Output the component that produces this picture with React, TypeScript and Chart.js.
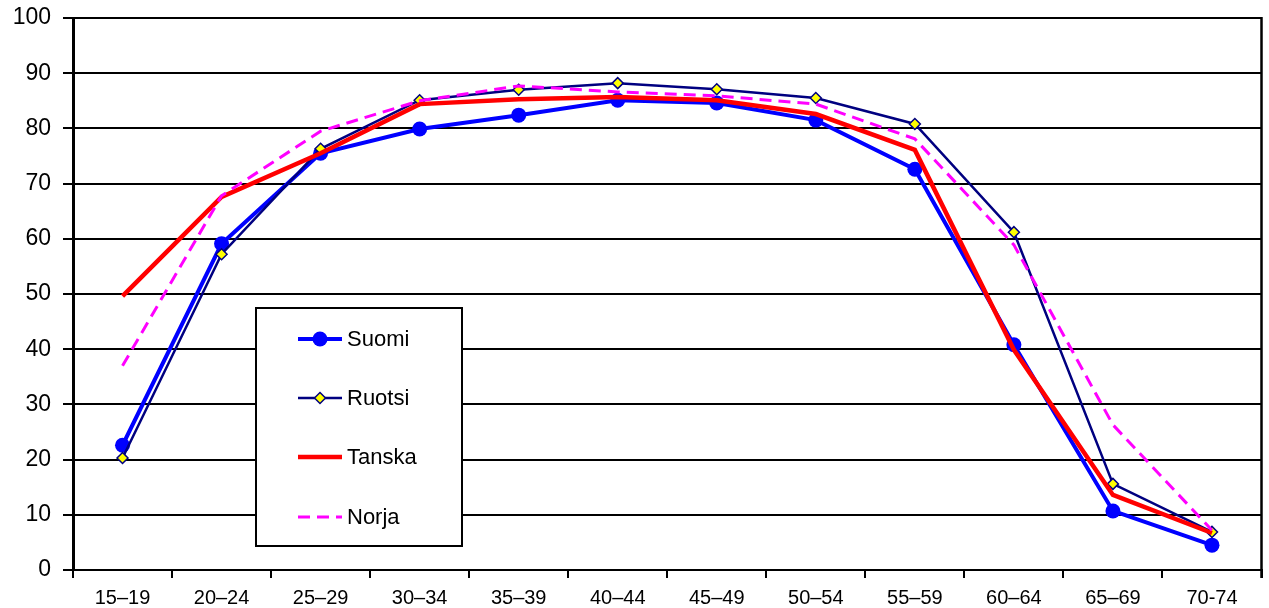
import React, { useEffect, useRef } from "react";
import { Chart, registerables } from "chart.js";

Chart.register(...registerables);

const categories = ["15–19", "20–24", "25–29", "30–34", "35–39", "40–44", "45–49", "50–54", "55–59", "60–64", "65–69", "70-74"];
const suomi = [22.6, 59.1, 75.5, 79.9, 82.4, 85.1, 84.6, 81.5, 72.6, 40.8, 10.7, 4.5];
const ruotsi = [20.3, 57.2, 76.3, 85.1, 87.0, 88.2, 87.1, 85.5, 80.8, 61.2, 15.6, 6.9];
const tanska = [49.6, 67.6, 75.5, 84.4, 85.3, 85.7, 85.1, 82.6, 76.1, 39.9, 13.6, 6.7];
const norja = [37.0, 67.8, 79.5, 85.0, 87.7, 86.6, 85.9, 84.4, 78.1, 58.9, 26.3, 7.2];
const yTicks = [0, 10, 20, 30, 40, 50, 60, 70, 80, 90, 100];

const FONT = "'Liberation Sans', Arial, sans-serif";

const frameAndLegend = {
  id: "frameAndLegend",
  afterDraw(chart: any) {
    const ctx = chart.ctx;
    const { right, top, bottom } = chart.chartArea;
    ctx.save();
    ctx.strokeStyle = "#000";
    ctx.lineWidth = 2.5;
    ctx.beginPath();
    ctx.moveTo(right, top - 1);
    ctx.lineTo(right, bottom + 8);
    ctx.stroke();

    const bx = 256, by = 308, bw = 206, bh = 238;
    ctx.fillStyle = "#fff";
    ctx.fillRect(bx, by, bw, bh);
    ctx.strokeStyle = "#000";
    ctx.lineWidth = 2;
    ctx.strokeRect(bx, by, bw, bh);

    const rowY = [339, 398, 457, 517];
    const x0 = 298, x1 = 342, tx = 347;
    chart.data.datasets.forEach((ds: any, i: number) => {
      const y = rowY[i];
      ctx.save();
      ctx.strokeStyle = ds.borderColor;
      ctx.lineWidth = ds.borderWidth;
      ctx.setLineDash(ds.borderDash || []);
      ctx.lineCap = "butt";
      ctx.beginPath();
      ctx.moveTo(x0, y);
      ctx.lineTo(x1, y);
      ctx.stroke();
      ctx.setLineDash([]);
      const cx = (x0 + x1) / 2;
      if (ds.pointRadius > 0) {
        ctx.fillStyle = ds.pointBackgroundColor;
        ctx.strokeStyle = ds.pointBorderColor;
        ctx.lineWidth = ds.pointBorderWidth;
        const r = ds.pointRadius;
        ctx.beginPath();
        if (ds.pointStyle === "rectRot") {
          ctx.moveTo(cx, y - r);
          ctx.lineTo(cx + r, y);
          ctx.lineTo(cx, y + r);
          ctx.lineTo(cx - r, y);
          ctx.closePath();
        } else {
          ctx.arc(cx, y, r, 0, Math.PI * 2);
        }
        ctx.fill();
        if (ds.pointBorderWidth > 0) ctx.stroke();
      }
      ctx.restore();
      ctx.fillStyle = "#000";
      ctx.font = `22px ${FONT}`;
      ctx.textAlign = "left";
      ctx.textBaseline = "middle";
      ctx.fillText(ds.label, tx, y + 1);
    });
    ctx.restore();
  },
};

export default function App() {
  const ref = useRef<HTMLCanvasElement | null>(null);
  useEffect(() => {
    if (!ref.current) return;
    document.body.style.margin = "0";
    document.body.style.overflow = "hidden";
    const chart = new Chart(ref.current, {
      type: "line",
      data: {
        labels: categories,
        datasets: [
          {
            label: "Suomi",
            data: suomi,
            borderColor: "#0000FF",
            backgroundColor: "#0000FF",
            borderWidth: 4,
            pointRadius: 7.5,
            pointStyle: "circle",
            pointBackgroundColor: "#0000FF",
            pointBorderColor: "#0000FF",
            pointBorderWidth: 0,
            order: 4,
          },
          {
            label: "Ruotsi",
            data: ruotsi,
            borderColor: "#000080",
            backgroundColor: "#FFFF00",
            borderWidth: 2.5,
            pointRadius: 5.5,
            pointStyle: "rectRot",
            pointBackgroundColor: "#FFFF00",
            pointBorderColor: "#000080",
            pointBorderWidth: 1.5,
            order: 3,
          },
          {
            label: "Tanska",
            data: tanska,
            borderColor: "#FF0000",
            backgroundColor: "#FF0000",
            borderWidth: 4.5,
            pointRadius: 0,
            pointBackgroundColor: "#FF0000",
            pointBorderColor: "#FF0000",
            pointBorderWidth: 0,
            order: 2,
          },
          {
            label: "Norja",
            data: norja,
            borderColor: "#FF00FF",
            backgroundColor: "#FF00FF",
            borderWidth: 3,
            borderDash: [12, 7],
            pointRadius: 0,
            pointBackgroundColor: "#FF00FF",
            pointBorderColor: "#FF00FF",
            pointBorderWidth: 0,
            order: 1,
          },
        ] as any,
      },
      options: {
        animation: false,
        responsive: false,
        maintainAspectRatio: false,
        layout: { padding: { top: 18, right: -3.5, left: 0, bottom: 0 } },
        plugins: { legend: { display: false }, tooltip: { enabled: false } },
        elements: { line: { tension: 0 } },
        scales: {
          x: {
            type: "category",
            offset: true,
            grid: {
              display: true,
              drawOnChartArea: false,
              drawTicks: true,
              tickLength: 8,
              color: "#000",
              lineWidth: 2,
              offset: true,
            },
            border: { display: true, color: "#000", width: 2 },
            ticks: {
              color: "#000",
              font: { family: FONT, size: 20 },
              padding: 8,
              maxRotation: 0,
              autoSkip: false,
            },
            afterFit: (scale: any) => {
              scale.height = 38;
              scale.paddingLeft = 0;
              scale.paddingRight = 0;
            },
          },
          y: {
            min: 0,
            max: 100,
            afterBuildTicks: (scale: any) => {
              scale.ticks = yTicks.map((v) => ({ value: v }));
            },
            grid: {
              color: "#000",
              lineWidth: 2,
              drawTicks: true,
              tickLength: 10,
            },
            border: { display: true, color: "#000", width: 3 },
            ticks: {
              color: "#000",
              font: { family: FONT, size: 23 },
              padding: 12,
            },
            afterFit: (scale: any) => {
              scale.width = 73;
              scale.paddingTop = 0;
              scale.paddingBottom = 0;
            },
          },
        },
      },
      plugins: [frameAndLegend],
    });
    return () => chart.destroy();
  }, []);

  return (
    <div style={{ position: "absolute", left: 0, top: 0, width: 1269, height: 608, background: "#fff" }}>
      <canvas ref={ref} width={1269} height={608} style={{ display: "block", width: 1269, height: 608 }} />
    </div>
  );
}
